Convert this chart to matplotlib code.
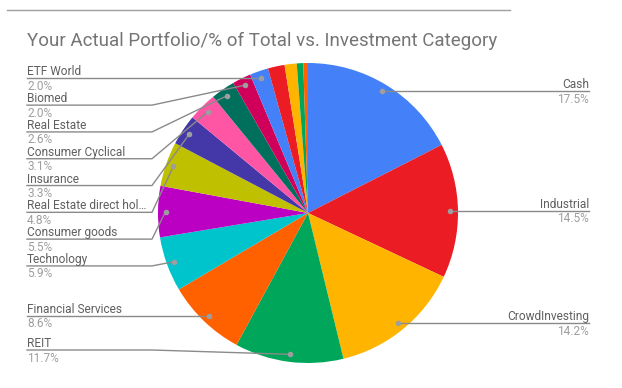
import numpy as np
import matplotlib.pyplot as plt

plt.rcParams['font.family'] = ['Roboto', 'DejaVu Sans']

categories = ["Cash", "Industrial", "CrowdInvesting", "REIT", "Financial Services",
              "Technology", "Consumer goods", "Real Estate direct hol\u2026", "Insurance",
              "Consumer Cyclical", "Real Estate", "Biomed", "ETF World", "", "", "", ""]
values = [17.5, 14.5, 14.2, 11.7, 8.6, 5.9, 5.5, 4.8, 3.3, 3.1, 2.6, 2.0, 2.0, 1.8, 1.3, 0.7, 0.5]
colors = ["#4480f8", "#ec1c24", "#ffb400", "#00a65a", "#ff6000", "#00c4cc", "#bb00c4",
          "#bfc000", "#4438a8", "#ff55a5", "#00705c", "#d0005a", "#4480f8", "#ec1c24",
          "#ffb400", "#00a65a", "#ff6000"]

W, H = 622, 388
fig = plt.figure(figsize=(W / 100, H / 100), dpi=100)
ax = fig.add_axes([0, 0, 1, 1])

# pixel y (from top) -> data y
def py(y):
    return H - y

cx, cy, R = 308, 213, 150
ax.pie(values, colors=colors, center=(cx, py(cy)), radius=R, startangle=90,
       counterclock=False, wedgeprops=dict(linewidth=0), frame=True)
ax.set_xlim(0, W)
ax.set_ylim(0, H)
ax.axis('off')

# top border line and title
ax.plot([7, 510], [py(10), py(10)], color="#9e9e9e", lw=1)
ax.text(27, py(41), "Your Actual Portfolio/% of Total vs. Investment Category",
        fontsize=13.5, color="#757575", va='center', ha='left')

total = sum(values)
cum = np.cumsum([0] + values[:-1])
mids = [(c + v / 2) / total * 2 * np.pi for c, v in zip(cum, values)]

left, right = [], []
for name, v, m in zip(categories, values, mids):
    if not name:
        continue
    dx, dy = 0.95 * R * np.sin(m), 0.95 * R * np.cos(m)
    dot = (cx + dx, cy - dy)
    (right if dx > 0 else left).append((name, v, dot))

line_c = "#8a8a8a"
name_c = "#5f5f5f"
pct_c = "#9e9e9e"
gap = 26.8

def place(items, side):
    items = sorted(items, key=lambda t: t[2][1])
    ys = []
    prev = -1e9
    for _, _, dot in items:
        y = max(dot[1], prev + gap)
        ys.append(y)
        prev = y
    # clamp bottom
    lim = 350
    for i in range(len(ys) - 1, -1, -1):
        if ys[i] > lim:
            ys[i] = lim
        lim = ys[i] - gap
    for (name, v, dot), y in zip(items, ys):
        if side == 'left':
            xt, xb = 27, cx - 156
            ax.plot([xt, xb, dot[0]], [py(y), py(y), py(dot[1])], color=line_c, lw=1)
            ha = 'left'
        else:
            xt, xb = 589, cx + 156
            ax.plot([dot[0], xb, xt], [py(dot[1]), py(y), py(y)], color=line_c, lw=1)
            ha = 'right'
        ax.plot(dot[0], py(dot[1]), 'o', color="#9e9e9e", ms=4, mec='none')
        ax.text(xt, py(y - 3), name, fontsize=8.6, color=name_c, ha=ha, va='baseline')
        ax.text(xt, py(y + 1.5), f"{v:.1f}%", fontsize=8.6, color=pct_c, ha=ha, va='top')

place(left, 'left')
place(right, 'right')

fig.savefig("out.png", dpi=100)
